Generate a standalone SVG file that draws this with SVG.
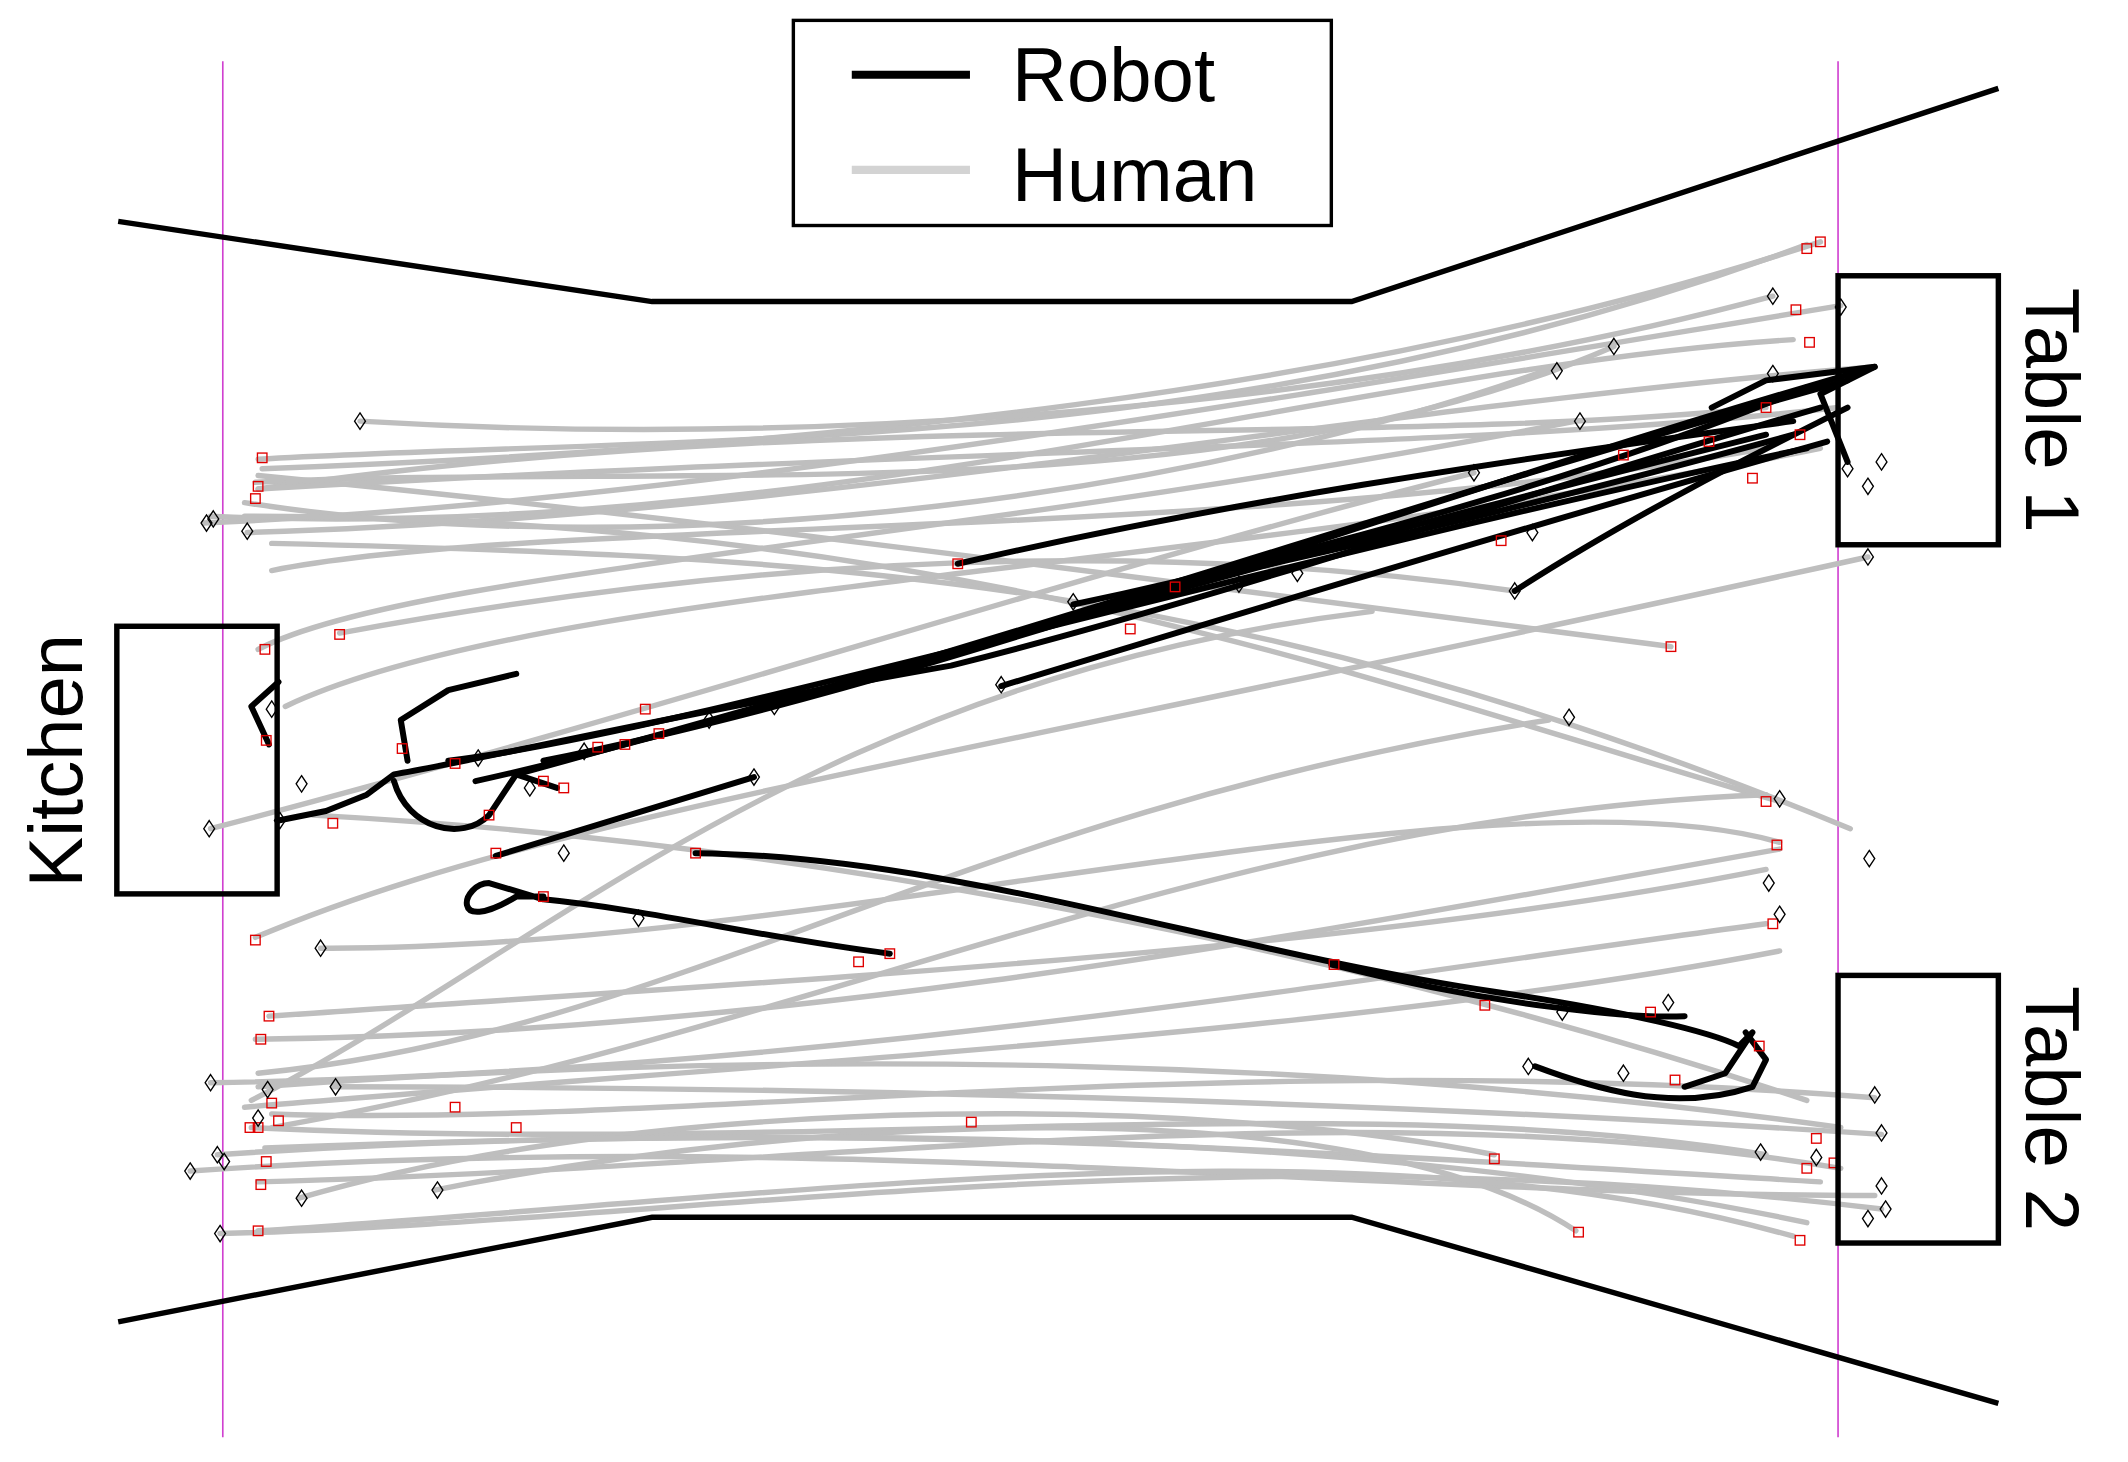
<svg xmlns="http://www.w3.org/2000/svg" xmlns:xlink="http://www.w3.org/1999/xlink" width="2128" height="1462" viewBox="0 0 2128 1462">
<style>
.h{fill:none;stroke:#bebebe;stroke-width:4;stroke-linecap:round}
.r{fill:none;stroke:#000;stroke-width:4.4;stroke-linejoin:round;stroke-linecap:round}
.w{fill:none;stroke:#000;stroke-width:4}
.t{font-family:"Liberation Sans",Arial,sans-serif;font-size:56px;fill:#000}
.m{stroke:#d040d0;stroke-width:1.2}
</style>
<defs>
<rect id="sq" x="-3.5" y="-3.5" width="7" height="7" fill="none" stroke="#e00000" stroke-width="1"/>
<path id="dm" d="M0,-6 L4,0 L0,6 L-4,0Z" fill="none" stroke="#000" stroke-width="1"/>
</defs>
<rect width="2128" height="1462" fill="#fff"/>
<g transform="scale(1.3585)">
<g id="bounds">
<line class="m" x1="164" y1="45" x2="164" y2="1058"/>
<line class="m" x1="1353" y1="45" x2="1353" y2="1058"/>
<polyline class="w" points="87,163 480,222 995,222 1471,65"/>
<polyline class="w" points="87,973 480,896 995,896 1471,1033"/>
</g>
<g id="human">
<path class="h" d="M190,338 C500,320 900,340 1330,180"/>
<path class="h" d="M193,345 C600,330 1000,290 1340,178"/>
<path class="h" d="M265,310 C600,330 1000,300 1305,218"/>
<path class="h" d="M150,385 C500,370 900,300 1355,225"/>
<path class="h" d="M155,380 C600,400 1000,270 1320,250"/>
<path class="h" d="M182,392 C600,380 1000,300 1380,270"/>
<path class="h" d="M188,355 C500,340 900,380 1188,255"/>
<path class="h" d="M190,360 C600,300 1000,330 1300,300"/>
<path class="h" d="M190,350 C500,380 800,420 1230,476"/>
<path class="h" d="M180,370 C500,420 900,360 1145,270"/>
<path class="h" d="M200,420 C400,380 900,400 1300,330"/>
<path class="h" d="M190,478 C300,420 700,400 1160,310"/>
<path class="h" d="M210,520 C400,430 900,420 1340,330"/>
<path class="h" d="M155,610 C500,520 800,420 1085,348"/>
<path class="h" d="M250,466 C500,420 800,390 1115,435"/>
<path class="h" d="M200,400 C600,410 900,420 1362,610"/>
<path class="h" d="M180,380 C700,380 1000,500 1310,590"/>
<path class="h" d="M188,690 C400,600 700,560 1375,410"/>
<path class="h" d="M236,698 C600,700 1100,560 1310,620"/>
<path class="h" d="M190,360 C700,330 1100,330 1353,300"/>
<path class="h" d="M198,748 C600,720 1000,700 1300,640"/>
<path class="h" d="M188,765 C600,760 1000,680 1310,625"/>
<path class="h" d="M155,797 C600,790 1000,720 1300,680"/>
<path class="h" d="M190,800 C600,770 1000,780 1355,830"/>
<path class="h" d="M160,850 C600,820 1000,850 1340,870"/>
<path class="h" d="M140,862 C600,830 1000,880 1380,880"/>
<path class="h" d="M162,908 C500,900 900,830 1385,890"/>
<path class="h" d="M190,906 C600,880 1000,820 1320,910"/>
<path class="h" d="M185,830 C600,850 1000,800 1300,850"/>
<path class="h" d="M200,820 C500,830 900,770 1380,808"/>
<path class="h" d="M320,876 C600,820 1000,800 1160,906"/>
<path class="h" d="M220,882 C500,800 900,810 1100,850"/>
<path class="h" d="M190,870 C600,860 1000,800 1355,860"/>
<path class="h" d="M245,800 C600,800 1000,810 1385,835"/>
<path class="h" d="M230,600 C600,620 1000,700 1330,810"/>
<path class="h" d="M190,790 C500,760 700,600 1140,530"/>
<path class="h" d="M185,810 C400,700 600,500 1010,450"/>
<path class="h" d="M200,830 C600,760 900,600 1300,585"/>
<path class="h" d="M195,845 C600,830 1000,830 1330,900"/>
<path class="h" d="M180,815 C600,780 1000,760 1310,700"/>
</g>
<g id="robot">
<path class="r" d="M205,604 L240,597 L270,585 L290,570 C350,560 500,525 700,490 C900,440 1100,370 1340,300"/>
<path class="r" d="M300,560 L295,530 L330,508 L380,496"/>
<path class="r" d="M198,548 L185,520 L205,502"/>
<path class="r" d="M330,560 C500,540 900,420 1330,330"/>
<path class="r" d="M350,575 C600,520 1000,380 1360,280"/>
<path class="r" d="M380,570 C600,510 900,420 1300,320"/>
<path class="r" d="M400,560 C700,500 1000,380 1380,270"/>
<path class="r" d="M790,445 C1000,400 1200,340 1330,285"/>
<path class="r" d="M705,415 C900,370 1100,340 1320,310"/>
<path class="r" d="M737,505 C950,440 1150,380 1345,325"/>
<path class="r" d="M365,630 L555,572"/>
<path class="r" d="M290,575 C300,610 340,620 360,600 L380,570 L410,580"/>
<path class="r" d="M400,660 L380,660 C330,690 340,650 360,650 L400,662 C480,670 560,690 655,702"/>
<path class="r" d="M512,628 C700,630 900,700 1100,730 C1200,745 1260,760 1280,770 L1290,760 L1270,790 L1240,800"/>
<path class="r" d="M980,710 C1100,740 1200,750 1240,748"/>
<path class="r" d="M1130,785 C1170,800 1230,820 1290,800 L1300,780 L1285,760"/>
<path class="r" d="M870,430 C1000,400 1100,380 1320,320"/>
<path class="r" d="M1115,435 C1200,380 1300,330 1360,300"/>
<path class="r" d="M1260,300 L1300,280 L1380,270 L1340,290 L1360,340"/>
</g>
<g id="markers">
<use href="#sq" x="193" y="337"/><use href="#sq" x="190" y="358"/><use href="#sq" x="188" y="367"/><use href="#sq" x="250" y="467"/><use href="#sq" x="195" y="478"/><use href="#sq" x="196" y="545"/><use href="#sq" x="188" y="692"/><use href="#sq" x="198" y="748"/><use href="#sq" x="192" y="765"/><use href="#sq" x="190" y="830"/><use href="#sq" x="200" y="812"/><use href="#sq" x="205" y="825"/><use href="#sq" x="196" y="855"/><use href="#sq" x="192" y="872"/><use href="#sq" x="190" y="906"/><use href="#sq" x="184" y="830"/><use href="#sq" x="335" y="815"/><use href="#sq" x="380" y="830"/><use href="#sq" x="715" y="826"/><use href="#sq" x="1100" y="853"/><use href="#sq" x="1162" y="907"/><use href="#sq" x="1325" y="913"/><use href="#sq" x="1305" y="680"/><use href="#sq" x="1300" y="590"/><use href="#sq" x="1308" y="622"/><use href="#sq" x="1330" y="183"/><use href="#sq" x="1340" y="178"/><use href="#sq" x="1322" y="228"/><use href="#sq" x="1332" y="252"/><use href="#sq" x="1195" y="335"/><use href="#sq" x="1105" y="398"/><use href="#sq" x="1230" y="476"/><use href="#sq" x="705" y="415"/><use href="#sq" x="865" y="432"/><use href="#sq" x="832" y="463"/><use href="#sq" x="475" y="522"/><use href="#sq" x="485" y="540"/><use href="#sq" x="335" y="562"/><use href="#sq" x="400" y="575"/><use href="#sq" x="415" y="580"/><use href="#sq" x="460" y="548"/><use href="#sq" x="440" y="550"/><use href="#sq" x="360" y="600"/><use href="#sq" x="245" y="606"/><use href="#sq" x="296" y="551"/><use href="#sq" x="365" y="628"/><use href="#sq" x="400" y="660"/><use href="#sq" x="512" y="628"/><use href="#sq" x="655" y="702"/><use href="#sq" x="632" y="708"/><use href="#sq" x="982" y="710"/><use href="#sq" x="1093" y="740"/><use href="#sq" x="1215" y="745"/><use href="#sq" x="1233" y="795"/><use href="#sq" x="1295" y="770"/><use href="#sq" x="1337" y="838"/><use href="#sq" x="1330" y="860"/><use href="#sq" x="1350" y="856"/><use href="#sq" x="1258" y="325"/><use href="#sq" x="1290" y="352"/><use href="#sq" x="1325" y="320"/><use href="#sq" x="1300" y="300"/>
<use href="#dm" x="265" y="310"/><use href="#dm" x="152" y="385"/><use href="#dm" x="157" y="382"/><use href="#dm" x="182" y="391"/><use href="#dm" x="200" y="522"/><use href="#dm" x="154" y="610"/><use href="#dm" x="222" y="577"/><use href="#dm" x="206" y="604"/><use href="#dm" x="236" y="698"/><use href="#dm" x="155" y="797"/><use href="#dm" x="197" y="802"/><use href="#dm" x="247" y="800"/><use href="#dm" x="160" y="850"/><use href="#dm" x="140" y="862"/><use href="#dm" x="165" y="855"/><use href="#dm" x="190" y="823"/><use href="#dm" x="222" y="882"/><use href="#dm" x="162" y="908"/><use href="#dm" x="322" y="876"/><use href="#dm" x="1188" y="255"/><use href="#dm" x="1146" y="273"/><use href="#dm" x="1163" y="310"/><use href="#dm" x="1305" y="218"/><use href="#dm" x="1355" y="226"/><use href="#dm" x="1305" y="275"/><use href="#dm" x="1385" y="340"/><use href="#dm" x="1375" y="358"/><use href="#dm" x="1360" y="345"/><use href="#dm" x="1375" y="410"/><use href="#dm" x="1085" y="348"/><use href="#dm" x="1115" y="435"/><use href="#dm" x="1128" y="392"/><use href="#dm" x="955" y="422"/><use href="#dm" x="912" y="430"/><use href="#dm" x="790" y="443"/><use href="#dm" x="737" y="504"/><use href="#dm" x="570" y="520"/><use href="#dm" x="522" y="530"/><use href="#dm" x="430" y="553"/><use href="#dm" x="352" y="558"/><use href="#dm" x="390" y="580"/><use href="#dm" x="415" y="628"/><use href="#dm" x="470" y="676"/><use href="#dm" x="555" y="572"/><use href="#dm" x="1155" y="528"/><use href="#dm" x="1310" y="588"/><use href="#dm" x="1376" y="632"/><use href="#dm" x="1302" y="650"/><use href="#dm" x="1310" y="673"/><use href="#dm" x="1150" y="745"/><use href="#dm" x="1228" y="738"/><use href="#dm" x="1125" y="785"/><use href="#dm" x="1195" y="790"/><use href="#dm" x="1380" y="806"/><use href="#dm" x="1385" y="834"/><use href="#dm" x="1296" y="848"/><use href="#dm" x="1337" y="852"/><use href="#dm" x="1385" y="873"/><use href="#dm" x="1388" y="890"/><use href="#dm" x="1375" y="897"/>
</g>
<g id="kitchen">
<rect class="w" x="86" y="461" width="118" height="197" fill="none"/>
<text class="t" transform="translate(60,560) rotate(-90)" text-anchor="middle">Kitchen</text>
</g>
<g id="table1">
<rect class="w" x="1353" y="203" width="118" height="198" fill="none"/>
<text class="t" transform="translate(1491,302) rotate(90)" text-anchor="middle">Table 1</text>
</g>
<g id="table2">
<rect class="w" x="1353" y="718" width="118" height="197" fill="none"/>
<text class="t" transform="translate(1491,816) rotate(90)" text-anchor="middle">Table 2</text>
</g>
<g id="legend">
<rect x="584" y="15" width="396" height="151" fill="#fff" stroke="#000" stroke-width="2.5"/>
<line x1="627" y1="55" x2="714" y2="55" stroke="#000" stroke-width="6"/>
<line x1="627" y1="125" x2="714" y2="125" stroke="#d3d3d3" stroke-width="6"/>
<text class="t" x="745" y="74">Robot</text>
<text class="t" x="745" y="148">Human</text>
</g>
</g>
</svg>
